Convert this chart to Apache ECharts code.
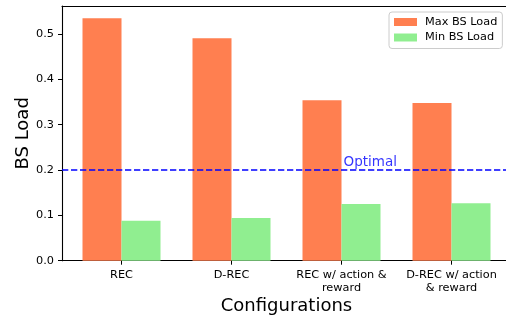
<!DOCTYPE html>
<html>
<head>
<meta charset="utf-8">
<script src="https://cdn.jsdelivr.net/npm/echarts@6/dist/echarts.min.js"></script>
<style>
html,body{margin:0;padding:0;background:#fff;}
#chart{width:506px;height:318px;}
</style>
</head>
<body>
<div id="chart"></div>
<script>
var categories = ['REC', 'D-REC', 'REC w/ action &\nreward', 'D-REC w/ action\n& reward'];
var maxLoad = [0.535, 0.491, 0.354, 0.348];
var minLoad = [0.088, 0.094, 0.125, 0.127];
var seriesNames = ['Max BS Load', 'Min BS Load'];
var optimalLevel = 0.2;
var optimalLabel = 'Optimal';
var optimalCategoryIndex = 2;
var yMax = 0.562;
var yInterval = 0.1;
var xTitle = 'Configurations';
var yTitle = 'BS Load';

var FONT = 'DejaVu Sans';
var chart = echarts.init(document.getElementById('chart'), null, {renderer: 'canvas'});

var frameLine = {show: true, lineStyle: {color: '#000', width: 1.1}};

var option = {
  animation: false,
  backgroundColor: '#fff',
  textStyle: {fontFamily: FONT},
  grid: [
    {left: 62, top: 6, width: 449, height: 254.7, containLabel: false, outerBoundsMode: 'none'},
    {left: 66.5, top: 6, width: 440, height: 254.7, containLabel: false, outerBoundsMode: 'none'}
  ],
  xAxis: [
    {gridIndex: 0, type: 'value', min: 0, max: 1, position: 'bottom',
      axisLine: frameLine, axisTick: {show: false}, axisLabel: {show: false}, splitLine: {show: false}},
    {gridIndex: 1, type: 'category', data: categories,
      axisLine: {show: false},
      axisTick: {show: true, alignWithLabel: true, length: 4, lineStyle: {color: '#000', width: 1}},
      axisLabel: {interval: 0, fontFamily: FONT, fontSize: 11.3, lineHeight: 13, color: '#000', margin: 8},
      splitLine: {show: false},
      name: xTitle, nameLocation: 'middle', nameGap: 37, nameMoveOverlap: false,
      nameTextStyle: {fontFamily: FONT, fontSize: 18, color: '#000'}
    },
    {gridIndex: 0, type: 'value', min: 0, max: 1, position: 'top',
      axisLine: frameLine, axisTick: {show: false}, axisLabel: {show: false}, splitLine: {show: false}}
  ],
  yAxis: [
    {gridIndex: 0, type: 'value', min: 0, max: yMax, interval: yInterval,
      axisLine: frameLine,
      axisTick: {show: true, length: 4, lineStyle: {color: '#000', width: 1}},
      axisLabel: {fontFamily: FONT, fontSize: 11.3, color: '#000', margin: 8, showMaxLabel: false,
        formatter: function (v) {
          var k = v / yInterval;
          if (Math.abs(k - Math.round(k)) > 1e-6) return '';
          return v.toFixed(1);
        }},
      splitLine: {show: false},
      name: yTitle, nameLocation: 'middle', nameRotate: 90, nameGap: 30, nameMoveOverlap: false,
      nameTextStyle: {fontFamily: FONT, fontSize: 18, color: '#000'}
    },
    {gridIndex: 1, type: 'value', min: 0, max: yMax, interval: yInterval, show: false}
  ],
  legend: {
    data: seriesNames,
    orient: 'vertical',
    left: 389, top: 12,
    padding: [3, 5, 4, 5],
    itemGap: 1.5,
    itemWidth: 23, itemHeight: 8,
    icon: 'rect',
    borderColor: '#ccc', borderWidth: 1, borderRadius: 3,
    backgroundColor: 'rgba(255,255,255,0.8)',
    textStyle: {fontFamily: FONT, fontSize: 11.3, color: '#000', lineHeight: 14, padding: [0, 0, 0, 3]}
  },
  series: [
    {name: seriesNames[0], type: 'bar', xAxisIndex: 1, yAxisIndex: 1, data: maxLoad,
      barWidth: 39, barGap: '0%', itemStyle: {color: '#ff7f50'}, z: 2},
    {name: seriesNames[1], type: 'bar', xAxisIndex: 1, yAxisIndex: 1, data: minLoad,
      barWidth: 39, barGap: '0%', itemStyle: {color: '#90ee90'}, z: 2},
    {name: 'optimalLine', type: 'line', xAxisIndex: 0, yAxisIndex: 0, data: [], z: 5,
      markLine: {silent: true, symbol: ['none', 'none'], animation: false,
        label: {show: false},
        lineStyle: {color: '#0000ff', width: 1.7, type: [6.3, 2.7], opacity: 1},
        data: [{yAxis: optimalLevel}]}
    },
    {name: 'optimalText', type: 'scatter', xAxisIndex: 1, yAxisIndex: 1,
      data: [[optimalCategoryIndex, optimalLevel]], symbolSize: 0, z: 6, silent: true,
      label: {show: true, formatter: optimalLabel, position: [2, -16], align: 'left', verticalAlign: 'top',
        fontFamily: FONT, fontSize: 13.5, lineHeight: 16, color: '#0000ff'}
    }
  ]
};
chart.setOption(option);
</script>
</body>
</html>
